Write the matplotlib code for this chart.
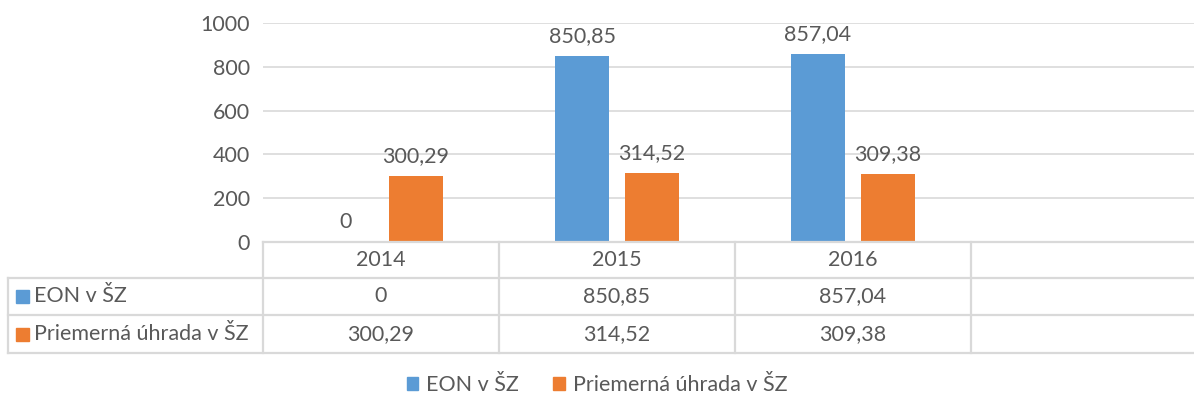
import matplotlib.pyplot as plt
from matplotlib.patches import Patch, Rectangle
from matplotlib.lines import Line2D
from matplotlib.transforms import blended_transform_factory

plt.rcParams["font.family"] = ["Lato", "DejaVu Sans"]

years = ["2014", "2015", "2016", ""]
series_names = ["EON v ŠZ", "Priemerná úhrada v ŠZ"]
eon = [0, 850.85, 857.04]
uhrada = [300.29, 314.52, 309.38]
colors = ["#5B9BD5", "#ED7D31"]
text_col = "#595959"
line_col = "#D9D9D9"

W, H = 1194, 400
FS = 15.5


def fmt(v):
    return ("%.2f" % v).replace(".", ",") if v else "0"


fig = plt.figure(figsize=(W / 100, H / 100), dpi=100)
ax_left, ax_bottom, ax_top = 263, 242, 23
ax = fig.add_axes([ax_left / W, (H - ax_bottom) / H, (W - ax_left) / W, (ax_bottom - ax_top) / H])

cat_w = 236
ax.set_xlim(-0.5, -0.5 + (W - ax_left) / cat_w)
ax.set_ylim(0, 1000)
ax.set_yticks(range(0, 1001, 200))
ax.tick_params(axis="y", length=0, labelsize=FS, labelcolor=text_col, pad=9.5)
ax.set_xticks([])
for s in ax.spines.values():
    s.set_visible(False)
ax.grid(axis="y", color=line_col, linewidth=1.2)
ax.set_axisbelow(True)

bw = 54 / cat_w
off = 35 / cat_w
for i, vals in enumerate([eon, uhrada]):
    xs = [k + (-off if i == 0 else off) for k in range(len(vals))]
    ax.bar(xs, vals, width=bw, color=colors[i], zorder=2)
    for x, v in zip(xs, vals):
        ax.annotate(fmt(v), (x, v), xytext=(0, 7), textcoords="offset points",
                    ha="center", va="bottom", fontsize=FS, color=text_col)

# data table below the plot
def fx(px):
    return px / W
def fy(py):
    return (H - py) / H

trans = blended_transform_factory(ax.transData, fig.transFigure)
rows_y = [242, 278, 315, 353]
lw = 1.6
fig.add_artist(Line2D([fx(263), 1], [fy(242)] * 2, color=line_col, lw=lw))
for ry in rows_y[1:]:
    fig.add_artist(Line2D([fx(8), 1], [fy(ry)] * 2, color=line_col, lw=lw))
fig.add_artist(Line2D([fx(8)] * 2, [fy(278), fy(353)], color=line_col, lw=lw))
for k in range(len(years)):
    xb = k - 0.5
    fig.add_artist(Line2D([xb, xb], [fy(242), fy(353)], color=line_col, lw=lw, transform=trans))

for k, y in enumerate(years):
    fig.text(k, fy(260), y, transform=trans, ha="center", va="center", fontsize=FS, color=text_col)
for r, vals in enumerate([eon, uhrada]):
    yc = fy((rows_y[r + 1] + rows_y[r + 2]) / 2)
    for k, v in enumerate(vals):
        fig.text(k, yc, fmt(v), transform=trans, ha="center", va="center", fontsize=FS, color=text_col)
    fig.add_artist(Rectangle((fx(16), yc - 6.5 / H), 13 / W, 13 / H, color=colors[r]))
    fig.text(fx(34), yc, series_names[r], ha="left", va="center", fontsize=FS, color=text_col)

handles = [Patch(color=c, label=n) for c, n in zip(colors, series_names)]
fig.legend(handles=handles, loc="center", bbox_to_anchor=(0.5, fy(385)), ncol=2, frameon=False,
           fontsize=FS, labelcolor=text_col, handlelength=0.55, handleheight=0.55,
           handletextpad=0.35, columnspacing=1.6)

fig.savefig("out.png", dpi=100)
